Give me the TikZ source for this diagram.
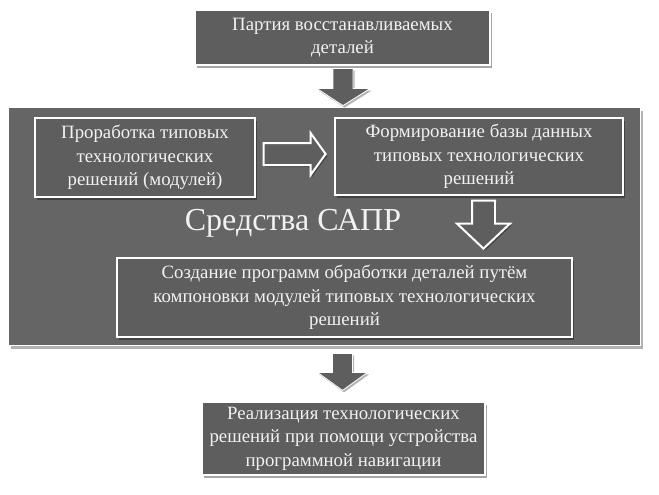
\documentclass[tikz,border=0pt]{standalone}
\usepackage{fontspec}
\setmainfont{Liberation Serif}
\newfontfamily\tnr{Liberation Serif}
\usetikzlibrary{shadows,calc}
\definecolor{boxgray}{HTML}{5E5E5E}
\definecolor{biggray}{HTML}{656565}
\definecolor{txt}{HTML}{F2F2F2}
\tikzset{
  box/.style={draw=white, line width=1.2pt, fill=boxgray, text=txt, align=center,
    font=\tnr\fontsize{18.8}{23.5}\selectfont, inner sep=0pt,
    drop shadow={shadow xshift=2pt, shadow yshift=-3pt, opacity=0.35, fill=black}},
  bigbox/.style={draw=white, line width=0.8pt, fill=biggray,
    drop shadow={shadow xshift=3pt, shadow yshift=-4pt, opacity=0.3, fill=black}},
  grayarrow/.style={fill=boxgray, draw=white, line width=0.8pt,
    drop shadow={shadow xshift=1.5pt, shadow yshift=-2pt, opacity=0.3, fill=black}},
  hollowarrow/.style={fill=boxgray, draw=white, line width=2pt, line join=miter,
    drop shadow={shadow xshift=1.5pt, shadow yshift=-2pt, opacity=0.35, fill=black}},
  bigtext/.style={text=txt, font=\tnr\fontsize{32}{36}\selectfont, inner sep=0pt}
}
\begin{document}
\begin{tikzpicture}[x=1pt,y=-1pt]
\useasboundingbox (0,0) rectangle (659,495);
\node[box, minimum width=295pt, minimum height=55pt] (top) at (342.5,37.5)
  {Партия восстанавливаемых\\деталей};
\node[bigbox, minimum width=632pt, minimum height=238pt] (big) at (324,226) {};
\node[box, minimum width=220pt, minimum height=79pt] (m1) at (145,157.5)
  {Проработка типовых\\технологических\\решений (модулей)};
\node[box, minimum width=288pt, minimum height=77pt] (m2) at (479,156.5)
  {Формирование базы данных\\типовых технологических\\решений};
\node[bigtext] (sapr) at (293,223) {Средства САПР};
\node[box, minimum width=455pt, minimum height=79pt] (m3) at (344.5,297.5)
  {Создание программ обработки деталей путём\\компоновки модулей типовых технологических\\решений};
\node[box, minimum width=283pt, minimum height=73pt] (bot) at (343.5,438.5)
  {Реализация технологических\\решений при помощи устройства\\программной навигации};
% top gray arrow (top -> big)
\coordinate (a1) at ($(top.south)+(0.5,3)$);
\draw[grayarrow] ($(a1)+(-10,0)$) -- ($(a1)+(10,0)$) -- ($(a1)+(10,20)$) -- ($(a1)+(27,20)$)
  -- ($(a1)+(0,37)$) -- ($(a1)+(-26,20)$) -- ($(a1)+(-10,20)$) -- cycle;
% hollow right arrow (m1 -> m2)
\coordinate (a2) at ($(m1.east)+(8,-3.5)$);
\draw[hollowarrow] ($(a2)+(0,-11)$) -- ($(a2)+(47,-11)$) -- ($(a2)+(47,-21)$) -- ($(a2)+(62,0)$)
  -- ($(a2)+(47,21)$) -- ($(a2)+(47,11)$) -- ($(a2)+(0,11)$) -- cycle;
% hollow down arrow (m2 -> m3)
\coordinate (a3) at ($(m2.south)+(4.5,5)$);
\draw[hollowarrow] ($(a3)+(-11.5,0)$) -- ($(a3)+(11.5,0)$) -- ($(a3)+(11.5,23)$) -- ($(a3)+(26.5,23)$)
  -- ($(a3)+(0,48)$) -- ($(a3)+(-26.5,23)$) -- ($(a3)+(-11.5,23)$) -- cycle;
% bottom gray arrow (big -> bot)
\coordinate (a4) at ($(big.south)+(18.5,8)$);
\draw[grayarrow] ($(a4)+(-10,0)$) -- ($(a4)+(10,0)$) -- ($(a4)+(10,19)$) -- ($(a4)+(25,19)$)
  -- ($(a4)+(0,37)$) -- ($(a4)+(-25,19)$) -- ($(a4)+(-10,19)$) -- cycle;
\end{tikzpicture}
\end{document}
